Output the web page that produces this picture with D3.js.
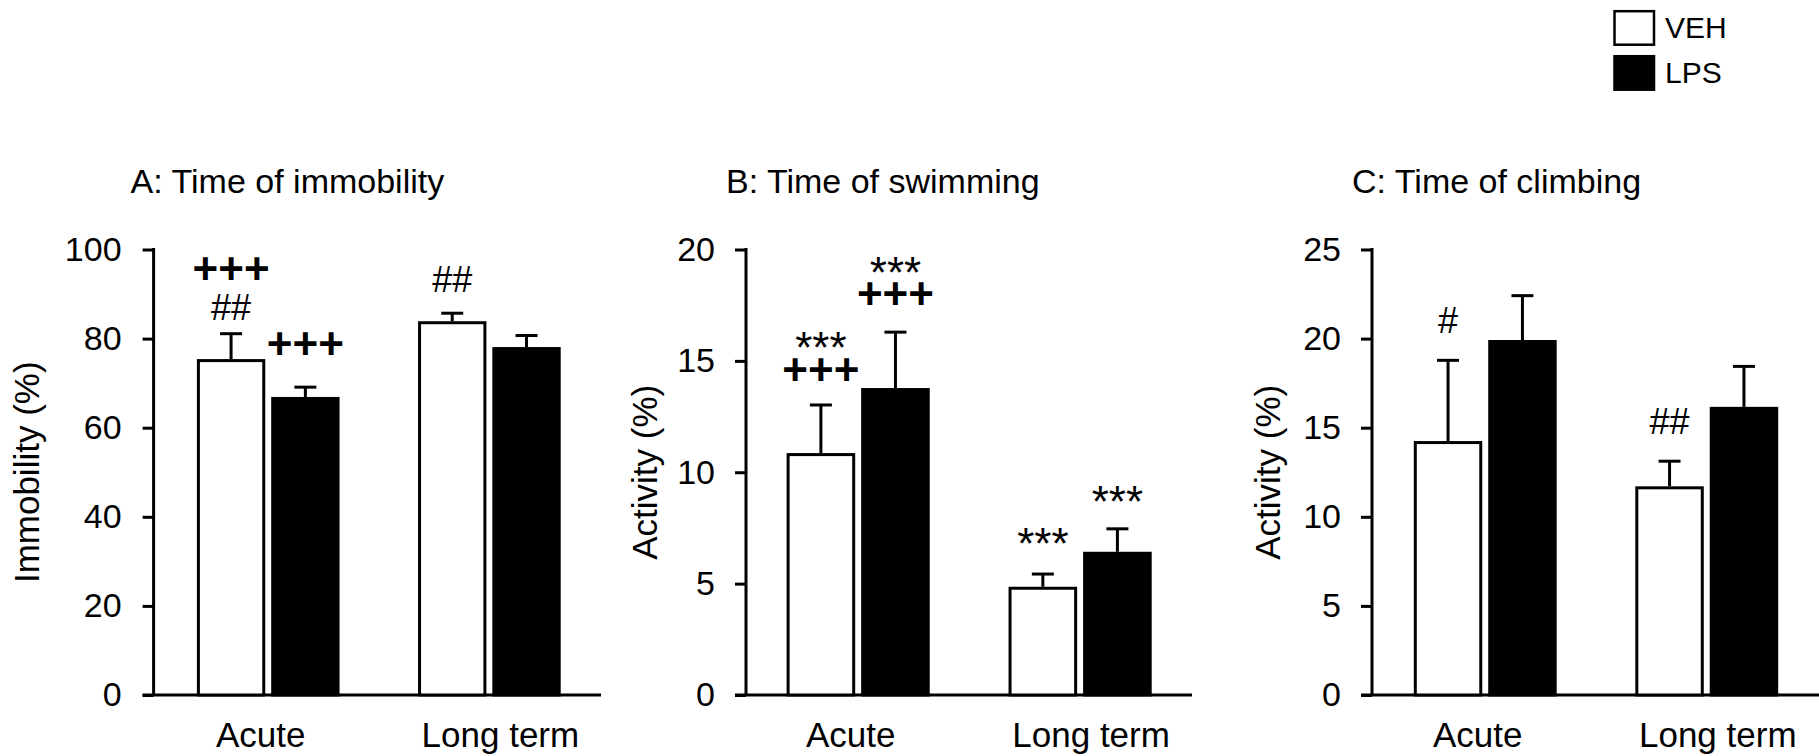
<!DOCTYPE html>
<html>
<head>
<meta charset="utf-8">
<script src="https://cdn.jsdelivr.net/npm/d3@7"></script>
<style>
  html, body { margin: 0; padding: 0; background: #fff; }
  svg { display: block; font-family: "Liberation Sans", Arial, sans-serif; }
</style>
</head>
<body>
<svg id="chart" width="1819" height="756"></svg>
<script>
// ---- data ----
const categories = ["Acute", "Long term"];
const groups = ["VEH", "LPS"];

// A: time of immobility (%)
const immobilityVEH = [75.4, 83.9];
const immobilityLPS = [66.9, 78.1];
const immobilityVEHErr = [5.7, 1.8];
const immobilityLPSErr = [2.2, 2.6];
const immobilityMarksVEH = [["+++", "##"], ["##"]];
const immobilityMarksLPS = [["+++"], []];
const immobilityTicks = [0, 20, 40, 60, 80, 100];

// B: time of swimming (%)
const swimmingVEH = [10.86, 4.86];
const swimmingLPS = [13.78, 6.43];
const swimmingVEHErr = [2.16, 0.57];
const swimmingLPSErr = [2.51, 1.03];
const swimmingMarksVEH = [["***", "+++"], ["***"]];
const swimmingMarksLPS = [["***", "+++"], ["***"]];
const swimmingTicks = [0, 5, 10, 15, 20];

// C: time of climbing (%)
const climbingVEH = [14.25, 11.71];
const climbingLPS = [19.92, 16.17];
const climbingVEHErr = [4.53, 1.41];
const climbingLPSErr = [2.49, 2.27];
const climbingMarksVEH = [["#"], ["##"]];
const climbingMarksLPS = [[], []];
const climbingTicks = [0, 5, 10, 15, 20, 25];

const panelTitles = ["A: Time of immobility", "B: Time of swimming", "C: Time of climbing"];
const yTitles = ["Immobility (%)", "Activity (%)", "Activity (%)"];

// ---- layout ----
const yTop = 249.5, yZero = 695;
const tickLen = 11;
const panels = [
  { title: panelTitles[0], yTitle: yTitles[0], ticks: immobilityTicks,
    veh: immobilityVEH, lps: immobilityLPS, vehErr: immobilityVEHErr, lpsErr: immobilityLPSErr,
    vehMarks: immobilityMarksVEH, lpsMarks: immobilityMarksLPS,
    vehGap: [14, 21], lpsGap: [32, 0],
    axisX: 153.6, xEnd: 601, band: [196.9, 560.7], yTitleOff: 115, tickPad: 21, titleDx: 23 },
  { title: panelTitles[1], yTitle: yTitles[1], ticks: swimmingTicks,
    veh: swimmingVEH, lps: swimmingLPS, vehErr: swimmingVEHErr, lpsErr: swimmingLPSErr,
    vehMarks: swimmingMarksVEH, lpsMarks: swimmingMarksLPS,
    vehGap: [24, 34], lpsGap: [27, 31],
    axisX: 746, xEnd: 1192, band: [786.6, 1151.7], yTitleOff: 89, tickPad: 20, titleDx: 20 },
  { title: panelTitles[2], yTitle: yTitles[2], ticks: climbingTicks,
    veh: climbingVEH, lps: climbingLPS, vehErr: climbingVEHErr, lpsErr: climbingLPSErr,
    vehMarks: climbingMarksVEH, lpsMarks: climbingMarksLPS,
    vehGap: [27, 27], lpsGap: [0, 0],
    axisX: 1372, xEnd: 1819, band: [1413.8, 1778.2], yTitleOff: 92, tickPad: 20, titleDx: 20 }
];
const catLabelDx = [-7.5, 11];
const fills = { VEH: "#fff", LPS: "#000" };

// significance-mark typography: size, weight, visible bottom / top (em above baseline)
function markType(s) {
  if (s.startsWith("+")) return { size: 44, weight: "bold", bottom: 0.09, top: 0.6 };
  if (s.startsWith("*")) return { size: 44, weight: "normal", bottom: 0.43, top: 0.72 };
  return { size: 36, weight: "normal", bottom: 0, top: 0.72 };
}
const markLineGap = 14;  // between stacked marks

const svg = d3.select("#chart");

panels.forEach(p => {
  const g = svg.append("g");
  const maxTick = p.ticks[p.ticks.length - 1];
  const y = d3.scaleLinear().domain([0, maxTick]).range([yZero, yTop]);
  const x0 = d3.scaleBand().domain(categories).range(p.band).paddingInner(0.355).paddingOuter(0);
  const x1 = d3.scaleBand().domain(groups).range([0, x0.bandwidth()]).paddingInner(0.08);

  // panel title
  g.append("text").attr("x", p.axisX - p.titleDx).attr("y", 193)
    .attr("font-size", 34).attr("fill", "#000").text(p.title);

  // y axis
  const yAxis = d3.axisLeft(y).tickValues(p.ticks).tickSize(tickLen).tickSizeOuter(0)
    .tickPadding(p.tickPad).tickFormat(d3.format("d"));
  const ya = g.append("g").attr("transform", `translate(${p.axisX},0)`).call(yAxis);
  ya.select(".domain").attr("stroke", "#000").attr("stroke-width", 3)
    .attr("d", `M0,${yTop - 1.5}V${yZero}`);
  ya.selectAll(".tick line").attr("stroke", "#000").attr("stroke-width", 3);
  ya.selectAll(".tick text").attr("font-size", 34).attr("fill", "#000")
    .attr("font-family", "Liberation Sans, Arial, sans-serif");

  // y axis title
  g.append("text")
    .attr("transform", `translate(${p.axisX - p.yTitleOff},${(yTop + yZero) / 2}) rotate(-90)`)
    .attr("text-anchor", "middle").attr("font-size", 35).attr("fill", "#000").text(p.yTitle);

  // x axis baseline
  g.append("line").attr("x1", p.axisX - tickLen).attr("x2", p.xEnd)
    .attr("y1", yZero).attr("y2", yZero).attr("stroke", "#000").attr("stroke-width", 3);

  // category labels
  categories.forEach((c, i) => {
    g.append("text").attr("x", x0(c) + x0.bandwidth() / 2 + catLabelDx[i]).attr("y", 747)
      .attr("text-anchor", "middle").attr("font-size", 35).attr("fill", "#000").text(c);
  });

  // bars, error bars, significance marks
  const rows = [];
  categories.forEach((c, i) => {
    rows.push({ cat: c, grp: "VEH", v: p.veh[i], e: p.vehErr[i], marks: p.vehMarks[i], gap: p.vehGap[i] });
    rows.push({ cat: c, grp: "LPS", v: p.lps[i], e: p.lpsErr[i], marks: p.lpsMarks[i], gap: p.lpsGap[i] });
  });

  rows.forEach(r => {
    const bx = x0(r.cat) + x1(r.grp);
    const bw = x1.bandwidth();
    const cx = bx + bw / 2;
    const errTop = y(r.v + r.e);
    // error bar (upper)
    g.append("line").attr("x1", cx).attr("x2", cx).attr("y1", y(r.v)).attr("y2", errTop)
      .attr("stroke", "#000").attr("stroke-width", 3);
    g.append("line").attr("x1", cx - 11).attr("x2", cx + 11).attr("y1", errTop).attr("y2", errTop)
      .attr("stroke", "#000").attr("stroke-width", 3);
    // bar
    g.append("rect").attr("x", bx + 1.5).attr("y", y(r.v) + 1.5)
      .attr("width", bw - 3).attr("height", yZero - y(r.v) - 1.5)
      .attr("fill", fills[r.grp]).attr("stroke", "#000").attr("stroke-width", 3);
    // marks stacked upward from the error bar, one text block per bar
    if (r.marks.length) {
      const txt = g.append("text").attr("text-anchor", "middle").attr("fill", "#000");
      let edge = errTop - r.gap;
      r.marks.slice().reverse().forEach(m => {
        const t = markType(m);
        const base = edge + t.bottom * t.size;
        txt.append("tspan").attr("x", cx).attr("y", base)
          .attr("font-size", t.size).attr("font-weight", t.weight).text(m);
        edge = base - t.top * t.size - markLineGap;
      });
    }
  });
});

// legend
const legendItems = groups.map((gname, i) => ({ name: gname, y: 10 + i * 45 }));
const lg = svg.append("g");
legendItems.forEach(it => {
  lg.append("rect").attr("x", 1614.5).attr("y", it.y + 1.2).attr("width", 39.5).attr("height", 33.5)
    .attr("fill", fills[it.name]).attr("stroke", "#000").attr("stroke-width", 2.5);
  lg.append("text").attr("x", 1665).attr("y", it.y + 28.3).attr("font-size", 30)
    .attr("fill", "#000").text(it.name);
});
</script>
</body>
</html>
